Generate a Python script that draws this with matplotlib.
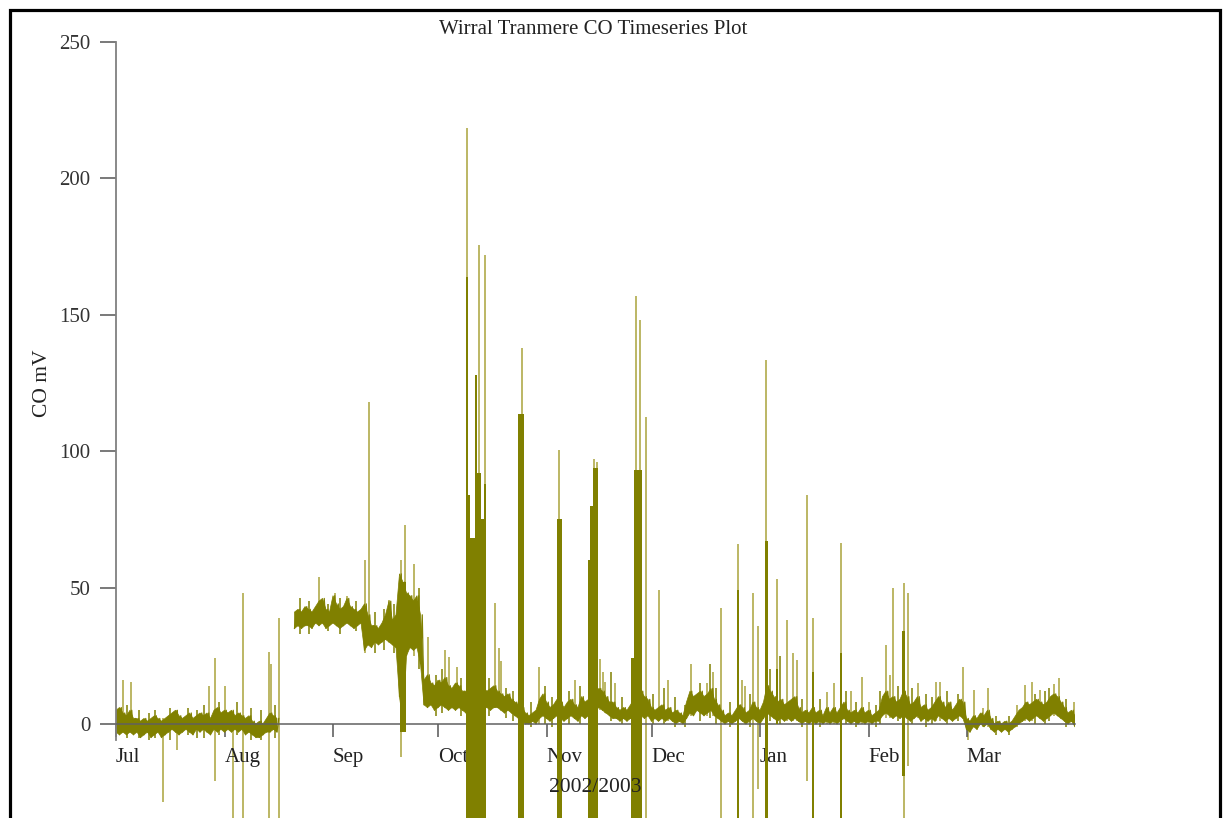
import numpy as np
import matplotlib
matplotlib.use('Agg')
import matplotlib.pyplot as plt
from matplotlib.patches import Rectangle
from datetime import date

plt.rcParams['font.family'] = ['Liberation Serif', 'DejaVu Serif']

# x values are days since 1 Jul 2002
start = date(2002, 7, 1)
months = [(2002, 7), (2002, 8), (2002, 9), (2002, 10), (2002, 11), (2002, 12),
          (2003, 1), (2003, 2), (2003, 3)]
month_labels = ['Jul', 'Aug', 'Sep', 'Oct', 'Nov', 'Dec', 'Jan', 'Feb', 'Mar']
end_day = (date(2003, 4, 1) - start).days

nan = np.nan

# daily envelope of the noisy baseline (gap in mid August)
band_day = list(range(0, 48)) + list(range(51, 275))
band_lo = [
    -3, -4, -3, -4, -3, -4, -3, -5, -4, -3,
    -5, -4, -3, -5, -4, -3, -2, -3, -4, -3,
    -2, -3, -4, -2, -3, -2, -3, -4, -2, -3,
    -2, -3, -2, -3, -2, -3, -2, -4, -3, -4,
    -5, -5, -4, -3, -3, -2, -3, nan,
    35, 36, 35, 36, 36, 35, 37, 36, 37, 35,
    36, 37, 36, 35, 36, 37, 36, 35, 36, 37,
    27, 29, 28, 30, 29, 30, 31, 30, 29, 28,
    10, 0, 25, 28, 27, 28, 22, 7, 6, 7,
    5, 6, 7, 6, 5, 6, 5, 6, 5, 4,
    4, 5, 6, 5, 6, 6, 5, 6, 6, 5,
    4, 5, 4, 3, 2, 1, 0, 0, 1, 0,
    2, 3, 2, 1, 2, 3, 2, 1, 2, 3,
    2, 1, 3, 2, 3, 4, 5, 6, 5, 4,
    3, 2, 2, 1, 2, 1, 2, 3, 4, 3,
    2, 3, 1, 2, 1, 2, 1, 2, 1, 0,
    1, 0, 2, 4, 3, 5, 4, 3, 4, 5,
    3, 2, 1, 0, 1, 0, 1, 2, 1, 0,
    1, 2, 1, 0, 2, 4, 3, 2, 1, 2,
    1, 2, 1, 2, 1, 0, 1, 0, 1, 0,
    1, 0, 1, 0, 1, 0, 1, 2, 1, 0,
    1, 0, 1, 0, 1, 0, 1, 1, 3, 4,
    3, 2, 3, 2, 3, 2, 1, 2, 3, 1,
    2, 1, 2, 1, 3, 2, 1, 2, 1, 2,
    3, 2, -2, -3, -1, -2, 0, -1, 0, -2,
    -3, -2, -3, -2, -3, -2, -1, 0, 1, 2,
    1, 2, 3, 2, 1, 2, 3, 4, 3, 2,
    1, 0, 1, -1]
band_hi = [
    5, 6, 4, 3, 5, 2, 2, 1, 2, 1,
    2, 3, 2, 1, 2, 3, 4, 5, 3, 2,
    3, 4, 2, 3, 4, 3, 4, 2, 5, 6,
    4, 5, 4, 5, 3, 4, 3, 2, 3, 1,
    0, 1, 0, 2, 4, 3, 2, nan,
    41, 42, 41, 43, 42, 41, 43, 45, 46, 42,
    41, 47, 44, 42, 43, 46, 43, 42, 41, 42,
    44, 40, 36, 36, 35, 37, 40, 45, 38, 40,
    55, 52, 48, 47, 45, 47, 40, 16, 18, 15,
    14, 16, 15, 17, 14, 13, 15, 14, 12, 12,
    11, 12, 13, 12, 13, 12, 13, 14, 12, 11,
    10, 11, 9, 8, 7, 6, 4, 3, 4, 5,
    9, 11, 8, 6, 7, 9, 8, 6, 8, 9,
    7, 6, 10, 8, 9, 10, 12, 13, 12, 10,
    8, 8, 6, 5, 6, 5, 7, 9, 10, 12,
    10, 9, 6, 5, 6, 7, 5, 6, 4, 5,
    4, 3, 8, 12, 10, 11, 12, 10, 11, 13,
    9, 7, 5, 3, 4, 3, 5, 7, 6, 4,
    5, 8, 6, 5, 8, 14, 12, 10, 8, 9,
    7, 8, 9, 10, 6, 4, 5, 4, 6, 4,
    5, 3, 6, 4, 6, 4, 6, 8, 5, 4,
    5, 4, 6, 4, 5, 3, 4, 5, 10, 12,
    9, 10, 8, 9, 12, 10, 7, 8, 10, 6,
    7, 5, 6, 8, 10, 8, 6, 8, 5, 7,
    9, 8, 2, 1, 3, 2, 4, 3, 5, 2,
    0, 1, 0, 1, 0, 1, 3, 5, 6, 8,
    7, 8, 9, 8, 7, 8, 10, 11, 10, 8,
    6, 4, 5, 3]

# dense bursts (solid columns of rapid oscillation)
burst_start = [81.0, 100.0, 100.6, 101.2, 102.6, 103.2, 104.2, 105.0, 114.9, 126.0,
               134.9, 135.5, 136.2, 147.1, 148.1, 177.4, 185.5, 188.6, 198.8, 206.9, 224.6]
burst_end = [82.8, 100.6, 101.2, 102.6, 103.2, 104.2, 105.0, 105.6, 116.6, 127.4,
             135.5, 136.2, 137.7, 148.1, 150.2, 178.0, 186.2, 189.2, 199.3, 207.4, 225.4]
burst_top = [52, 164, 84, 68, 128, 92, 75, 88, 113.5, 75,
             60, 80, 94, 24, 93, 49, 67, 20, 19, 26, 34]
burst_bot = [-3, -40, -40, -40, -40, -40, -40, -40, -40, -40,
             -40, -40, -40, -40, -40, -40, -40, 0, -40, -40, -19]

# isolated spikes: day, top, bottom
spike_day = [1.0, 2.0, 4.2, 13.4, 17.4, 26.7, 28.4, 31.1, 33.5, 36.2, 43.8, 44.2, 46.7,
             58.0, 62.6, 66.0, 71.0, 72.4, 78.0, 81.4, 82.6, 84.0, 85.0, 89.0, 94.0, 95.2, 97.3,
             100.4, 103.8, 105.4, 108.3, 109.5, 109.9, 115.9, 120.8, 126.7, 131.1, 136.5, 137.3,
             138.3, 139.0, 139.8, 142.6,
             148.5, 149.7, 151.3, 155.2, 157.7, 164.3, 168.9, 170.6, 172.9, 177.6, 178.9, 179.7,
             182.0, 183.3, 185.7, 188.9, 191.8, 193.5, 194.7, 197.3, 199.0, 203.2, 205.0, 207.1,
             210.1, 213.0, 215.0, 219.9, 221.2, 222.0, 225.0, 226.2, 229.2, 234.3, 235.4, 242.1,
             243.3, 245.0, 247.8, 249.0, 257.4, 259.7, 261.6, 264.0, 268.1, 269.4, 273.6]
spike_top = [6, 16, 15.5, 2, 5, 14, 24, 14, 2, 48, 26.5, 22, 39,
             54, 48, 47, 60, 118, 45.6, 60, 73, 46.5, 58.6, 32, 27, 24.5, 21,
             218.6, 175.5, 172, 44.5, 28, 23, 137.7, 21, 100.5, 16, 97, 96,
             23.7, 19, 15.5, 15,
             156.8, 148, 112.6, 49, 16, 21.8, 15, 19, 42.5, 66, 16, 14,
             48, 36, 133.4, 53, 38, 26, 23.5, 84, 38.8, 11.8, 15, 66.2,
             12, 17.3, 8, 29, 18, 49.7, 51.6, 48, 15, 15.5, 15.5, 21,
             0, 12.5, 6, 13, 7, 14.3, 15.5, 12.5, 14.7, 16.8, 8]
spike_bot = [-3, -2, -2, -28.5, -9.5, 0, -21, -2, -40, -40, -40, 0, -40,
             38, 38, 38, 26, 30, 30, -12, 20, 28, 25, 8, 8, 8, 6,
             -40, -40, -40, 6, 6, 6, -40, 0, -40, 2, -40, -40,
             5, 5, 4, 2,
             -40, -40, -40, 1, 1, 3, 3, 3, -40, -40, 1, 0,
             -40, -24, -40, 0, 1, 1, 1, -21, -40, 0, 0, -40,
             0, 0, 0, 2, 2, 2, -40, -15.6, 2, 1, 1, 2,
             -6, -1, -1, -1, -1, 1, 1, 2, 3, 3, 0]

# small spikes that give the baseline its ragged texture
minor_day = [3.0, 6.5, 9.5, 11.0, 15.5, 20.5, 23.0, 25.0, 29.5, 34.5, 38.5, 41.5, 45.5,
             52.5, 55.0, 60.5, 64.0, 68.5, 74.0, 76.5, 79.5, 86.5, 91.5, 93.0, 98.5,
             106.5, 111.5, 113.5, 118.5, 122.5, 124.5, 129.5, 132.6, 141.4, 144.5,
             153.5, 156.6, 159.7, 162.5, 166.9, 169.7, 171.4, 175.5, 181.0, 186.9,
             189.7, 196.0, 201.0, 208.5, 211.5, 217.0, 218.3, 223.5, 227.5, 231.5,
             233.0, 237.5, 240.5, 251.5, 255.0, 262.5, 265.5, 266.5, 271.5]
minor_top = [7, 5, 4, 5, 6, 6, 5, 7, 8, 8, 6, 5, 7,
             46, 45, 44, 46, 45, 41, 42, 44, 50, 18, 20, 17,
             17, 13, 12, 8, 14, 10, 12, 14, 19, 10,
             11, 13, 10, 7, 15, 22, 13, 8, 11, 20,
             25, 9, 9, 12, 8, 7, 12, 14, 13, 11,
             10, 12, 11, 3, 3, 11, 12, 13, 9]
minor_bot = [-5, -5, -6, -5, -6, -4, -5, -5, -4, -4, -6, -6, -5,
             33, 33, 34, 33, 34, 26, 27, 26, 20, 3, 4, 3,
             3, 2, 1, -1, 0, -1, 0, 0, 1, 0,
             0, 0, -1, -1, 1, 2, 0, -1, -1, 1,
             0, -1, -1, 0, -1, -1, 0, 1, 0, -1,
             0, 0, 1, -4, -4, 0, 0, 1, -1]

OLIVE = '#808000'
PALE_OLIVE = '#aaa33a'

fig = plt.figure(figsize=(12.24, 8.18), dpi=100)
ax = fig.add_axes([116 / 1224, 0, (1075 - 116) / 1224, (818 - 42) / 818])
ax.set_xlim(0, end_day)
ax.set_ylim(-34.5, 250)

# isolated spikes underneath, so the dense parts cover them
ax.vlines(spike_day, spike_bot, spike_top, color=PALE_OLIVE, lw=1.1, zorder=1)

# baseline band
ax.fill_between(band_day, band_lo, band_hi, color=OLIVE, lw=0.5, zorder=2)
zz_x = np.column_stack([band_day, np.array(band_day) + 0.5]).ravel()
zz_y = np.column_stack([band_lo, band_hi]).ravel()
ax.plot(zz_x, zz_y, color=OLIVE, lw=0.9, zorder=2)
ax.vlines(minor_day, minor_bot, minor_top, color=OLIVE, lw=1.1, zorder=2)

# bursts
bw = np.array(burst_end) - np.array(burst_start)
bh = np.array(burst_top) - np.array(burst_bot)
ax.bar(burst_start, bh, width=bw, bottom=burst_bot, align='edge', color=OLIVE,
       lw=0, zorder=3)

# axes styling
for s in ['top', 'right']:
    ax.spines[s].set_visible(False)
ax.spines['left'].set_bounds(-6, 250)
ax.spines['left'].set_color('#808080')
ax.spines['left'].set_linewidth(1.3)
ax.spines['bottom'].set_position(('data', 0))
ax.spines['bottom'].set_bounds(0, end_day)
ax.spines['bottom'].set_color('#606060')
ax.spines['bottom'].set_linewidth(1.1)

ax.set_yticks([0, 50, 100, 150, 200, 250])
ax.tick_params(axis='y', direction='out', length=11.5, width=1.1, color='#555555',
               pad=7, labelsize=15, labelcolor='#333333')
month_pos = [(date(y, m, 1) - start).days for y, m in months]
ax.set_xticks(month_pos)
ax.set_xticklabels(month_labels)
ax.tick_params(axis='x', direction='out', length=9, width=1.1, color='#555555',
               pad=8, labelsize=15, labelcolor='#222222')
for lab in ax.get_xticklabels():
    lab.set_ha('left')

fig.text(593 / 1224, 1 - 30 / 818, 'Wirral Tranmere CO Timeseries Plot',
         ha='center', va='center', fontsize=15, color='#222222')
fig.text(42 / 1224, 1 - 383 / 818, 'CO mV', rotation=90,
         ha='center', va='center', fontsize=15.5, color='#222222')
fig.text(595 / 1224, 1 - 787 / 818, '2002/2003',
         ha='center', va='center', fontsize=15.5, color='#222222')

# page frame
fig.add_artist(Rectangle((9.5 / 1224, -0.05), (1220 - 9.5) / 1224, 1.05 - 9.5 / 818,
                         transform=fig.transFigure, fill=False, ec='black', lw=2.3,
                         clip_on=False))

fig.savefig('out.png', dpi=100)
